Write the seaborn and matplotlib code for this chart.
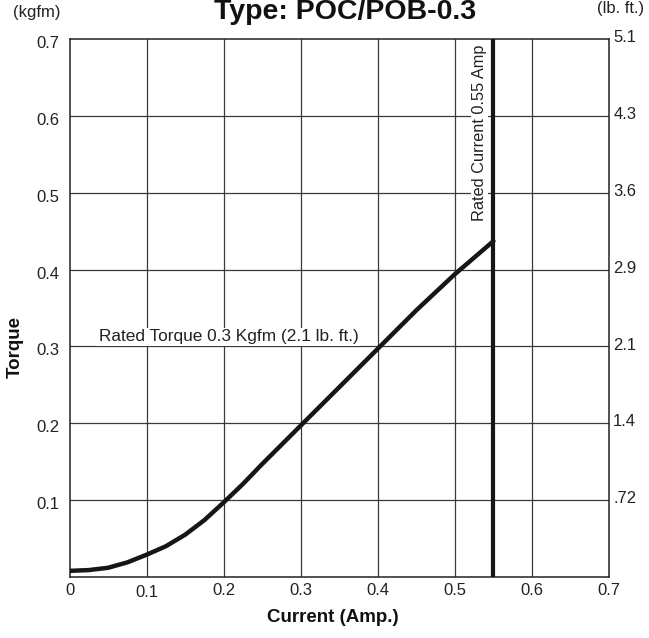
import numpy as np
import pandas as pd
import matplotlib
matplotlib.use("Agg")
import matplotlib.pyplot as plt
import matplotlib.transforms as mtransforms
import seaborn as sns

# Data
current = [0.0, 0.025, 0.05, 0.075, 0.10, 0.125, 0.15, 0.175, 0.20, 0.225,
           0.25, 0.275, 0.30, 0.35, 0.40, 0.45, 0.50, 0.55]
torque = [0.008, 0.009, 0.012, 0.019, 0.029, 0.040, 0.055, 0.074, 0.097, 0.121,
          0.147, 0.172, 0.197, 0.247, 0.297, 0.347, 0.394, 0.437]
rated_current = 0.55
x_ticks = [0, 0.1, 0.2, 0.3, 0.4, 0.5, 0.6, 0.7]
x_tick_labels = ["0", "0.1", "0.2", "0.3", "0.4", "0.5", "0.6", "0.7"]
y_ticks = [0.1, 0.2, 0.3, 0.4, 0.5, 0.6, 0.7]
y_tick_labels = ["0.1", "0.2", "0.3", "0.4", "0.5", "0.6", "0.7"]
lbft_labels = [".72", "1.4", "2.1", "2.9", "3.6", "4.3", "5.1"]

sns.set_style("white")
plt.rcParams['font.family'] = ['Liberation Sans', 'DejaVu Sans']

W, H = 649, 638
fig = plt.figure(figsize=(W / 100, H / 100), dpi=100)
ax = fig.add_axes([69.5 / W, 1 - 577 / H, (609 - 69.5) / W, (577 - 39) / H])

df = pd.DataFrame({"current": current, "torque": torque})
ax.set_xlim(0, 0.7)
ax.set_ylim(0, 0.7)

# grid
for xv in x_ticks[1:-1]:
    ax.axvline(xv, color="#3a3a3a", lw=0.9, zorder=1)
for yv in y_ticks[:-1]:
    ax.axhline(yv, color="#3a3a3a", lw=0.9, zorder=1)

sns.lineplot(data=df, x="current", y="torque", ax=ax, color="#161616", lw=3.2,
             zorder=4, legend=False)
ax.plot([rated_current, rated_current], [0, 0.7], color="#161616", lw=3.0,
        solid_capstyle="butt", zorder=4)

for s in ax.spines.values():
    s.set_visible(True)
    s.set_color("#222222")
    s.set_linewidth(1.1)

ax.set_xticks(x_ticks)
ax.set_xticklabels(x_tick_labels, fontsize=12, color="#222222")
ax.set_yticks(y_ticks)
ax.set_yticklabels(y_tick_labels, fontsize=12, color="#222222")
ax.tick_params(axis="x", length=0, pad=4)
ax.tick_params(axis="y", length=0, pad=7)
ax.set_xlabel("")
ax.set_ylabel("")
# second x label slightly lower as in reference
lbl = ax.get_xticklabels()[1]
lbl.set_transform(lbl.get_transform() + mtransforms.ScaledTranslation(0, -2 / 100, fig.dpi_scale_trans))
for lbl in ax.get_yticklabels():
    lbl.set_transform(lbl.get_transform() + mtransforms.ScaledTranslation(0, -3 / 100, fig.dpi_scale_trans))

# right-hand lb.ft labels
for yv, t in zip(y_ticks, lbft_labels):
    ax.annotate(t, xy=(1, yv), xycoords=("axes fraction", "data"),
                xytext=(3, 1), textcoords="offset points",
                ha="left", va="center", fontsize=12, color="#222222")

ax.text(0.038, 0.3125, "Rated Torque 0.3 Kgfm (2.1 lb. ft.)", fontsize=12.4,
        ha="left", va="center", color="#222222", zorder=3,
        bbox=dict(facecolor="white", edgecolor="none", pad=1))
ax.text(0.532, 0.578, "Rated Current 0.55 Amp", fontsize=11.8, rotation=90,
        ha="center", va="center", color="#222222", zorder=3,
        bbox=dict(facecolor="white", edgecolor="none", pad=1))

fig.text(345 / W, 1 - 19 / H, "Type: POC/POB-0.3", ha="center", va="baseline",
         fontsize=20.5, fontweight="bold", color="#111111")
fig.text(37 / W, 1 - 12 / H, "(kgfm)", ha="center", va="center", fontsize=12, color="#222222")
fig.text(597 / W, 1 - 9 / H, "(lb. ft.)", ha="left", va="center", fontsize=12, color="#222222")
fig.text(15 / W, 1 - 347 / H, "Torque", ha="center", va="center", rotation=90,
         fontsize=13.5, fontweight="bold", color="#111111")
fig.text(333 / W, 1 - 618 / H, "Current (Amp.)", ha="center", va="center",
         fontsize=13.5, fontweight="bold", color="#111111")

fig.savefig("out.png", dpi=100)
